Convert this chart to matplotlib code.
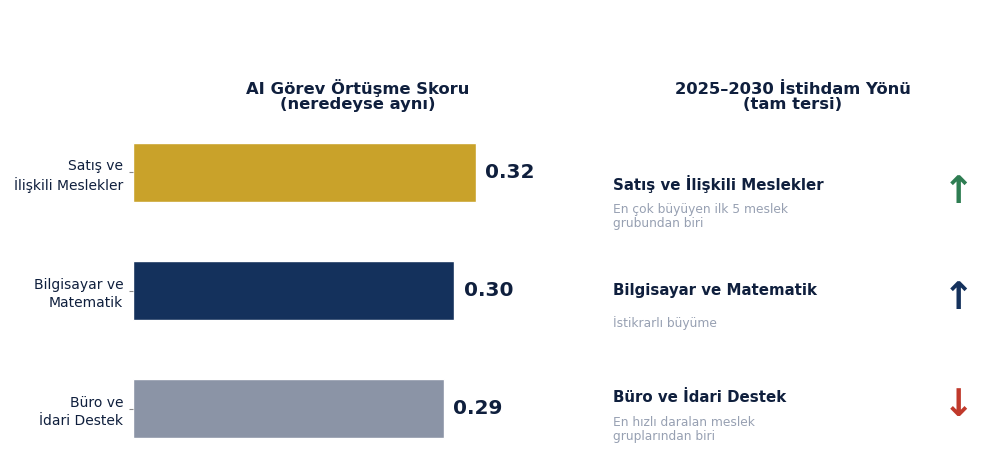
import matplotlib
matplotlib.use("Agg")
import matplotlib.pyplot as plt

# data
categories = ["Satış ve\nİlişkili Meslekler", "Bilgisayar ve\nMatematik", "Büro ve\nİdari Destek"]
scores = [0.32, 0.30, 0.29]
barColors = ["#C9A22A", "#14315C", "#8B94A6"]

headings = ["Satış ve İlişkili Meslekler", "Bilgisayar ve Matematik", "Büro ve İdari Destek"]
descriptions = ["En çok büyüyen ilk 5 meslek\ngrubundan biri", "İstikrarlı büyüme", "En hızlı daralan meslek\ngruplarından biri"]
arrows = ["↑", "↑", "↓"]
arrowColors = ["#2E7D52", "#14315C", "#C0392B"]

navy = "#0F1F3D"
grey = "#97A0B2"

plt.rcParams['font.family'] = ['DejaVu Sans']

fig = plt.figure(figsize=(10, 4.66), dpi=100)

# left: bar chart
W, H = 1000, 466
ax = fig.add_axes([133 / W, 1 - 468 / H, 450 / W, 355 / H])
y = range(len(categories))
ax.barh(y, scores, height=0.5, color=barColors, edgecolor="white", linewidth=1)
ax.set_xlim(0, 0.42)
ax.set_ylim(2.5, -0.5)
ax.set_yticks(list(y))
ax.set_yticklabels(categories, fontsize=10, color=navy, linespacing=1.35)
ax.tick_params(axis='y', length=3, color="#888888", pad=4)
ax.set_xticks([])
for s in ax.spines.values():
    s.set_visible(False)

for i, v in enumerate(scores):
    ax.text(v + 0.009, i, f"{v:.2f}", va="center", ha="left",
            fontsize=14.5, fontweight="bold", color=navy)

ax.set_title("AI Görev Örtüşme Skoru\n(neredeyse aynı)", fontsize=11.8,
             fontweight="bold", color=navy, pad=3, linespacing=0.98)

# right: direction panel
ax2 = fig.add_axes([600 / W, 1 - 468 / H, 385 / W, 355 / H])
ax2.set_xlim(0, 1)
ax2.set_ylim(0, 1)
ax2.axis("off")
rowY = [0.8, 0.5, 0.2]
for i in range(len(headings)):
    ax2.text(0.034, rowY[i], headings[i], fontsize=10.8, fontweight="bold",
             color=navy, va="center", ha="left")
    ax2.text(0.034, rowY[i] - 0.092, descriptions[i], fontsize=8.8,
             color=grey, va="center", ha="left", linespacing=1.15)
    ax2.text(0.93, rowY[i] - 0.024, arrows[i], fontsize=27, fontweight="bold",
             color=arrowColors[i], va="center", ha="center")

ax2.set_title("2025–2030 İstihdam Yönü\n(tam tersi)", fontsize=11.8,
              fontweight="bold", color=navy, pad=3, linespacing=0.98)

fig.savefig("out.png", dpi=100)
